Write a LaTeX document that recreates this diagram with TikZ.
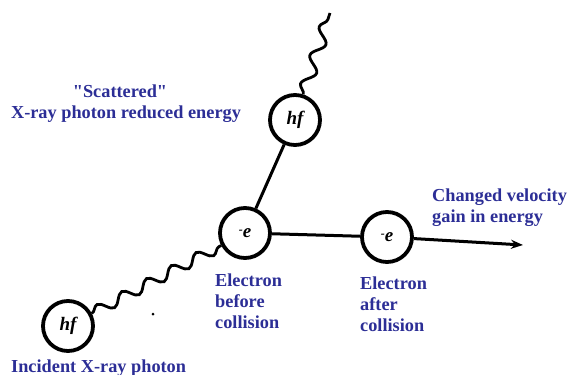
\documentclass[tikz,border=0pt]{standalone}
\usepackage{fontspec}
\setmainfont{Liberation Serif}
\usetikzlibrary{decorations.pathmorphing,arrows.meta}
\definecolor{lblue}{RGB}{44,46,150}
\newcommand{\elec}{\raisebox{0.45ex}{\fontsize{12}{12}\selectfont -}e}
\begin{document}
\begin{tikzpicture}[x=1pt,y=-1pt,
  particle/.style={circle,draw=black,line width=3.8pt,minimum size=50pt,inner sep=0pt,
    font=\fontsize{19}{19}\selectfont\bfseries\itshape},
  link/.style={line width=3pt,draw=black},
  wave/.style={line width=2.8pt,draw=black,decorate,
    decoration={snake,segment length=28pt,amplitude=5.5pt}},
  lbl/.style={text=lblue,font=\fontsize{18.3}{21}\selectfont\bfseries,inner sep=0pt,align=left}
]
\useasboundingbox (0,0) rectangle (571,375);
% particles
\node[particle] (inc) at (68,326) {hf};
\node[particle] (eb) at (245,233) {\elec};
\node[particle] (ea) at (387,237) {\elec};
\node[particle] (sc) at (295,120) {hf};
\coordinate (scend) at (330,13);
\coordinate (aend) at (523,245);
% connectors
\draw[wave] (inc) -- (eb);
\draw[wave,decoration={snake,segment length=30pt,amplitude=6pt}] (sc) -- (scend);
\draw[link] (eb) -- (sc);
\draw[link] (eb) -- (ea);
\draw[link,-{Stealth[length=12pt,width=9pt]}] (ea) -- (aend);
% stray dot
\fill (153,314) circle (1.5pt);
% labels
\node[lbl,anchor=base west] (tinc) at (11,372) {Incident X-ray photon};
\node[lbl,anchor=base] (tsc1) at (120,97) {\textquotedbl Scattered\textquotedbl};
\node[lbl,anchor=base] (tsc2) at (126,118) {X-ray photon reduced energy};
\node[lbl,anchor=north west] (teb) at (215,274) {Electron\\before\\collision};
\node[lbl,anchor=north west] (tea) at (360,277) {Electron\\after\\collision};
\node[lbl,anchor=north west] (tcv) at (432,189) {Changed velocity\\gain in energy};
\end{tikzpicture}
\end{document}
